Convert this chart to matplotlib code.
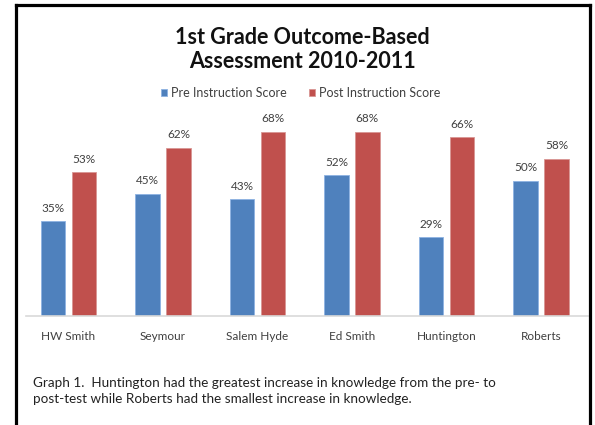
import numpy as np
import matplotlib.pyplot as plt
from matplotlib.lines import Line2D

plt.rcParams["font.family"] = ["Lato", "DejaVu Sans"]

schools = ["HW Smith", "Seymour", "Salem Hyde", "Ed Smith", "Huntington", "Roberts"]
pre_scores = [35, 45, 43, 52, 29, 50]
post_scores = [53, 62, 68, 68, 66, 58]
series_names = ["Pre Instruction Score", "Post Instruction Score"]

blue = "#4F81BD"
red = "#C0504D"
text_col = "#404040"

fig = plt.figure(figsize=(5.95, 4.25), dpi=100)
ax = fig.add_axes([26 / 595, 0.2565, 562 / 595, 0.51])

x = np.arange(len(schools))
w = 0.26
off = 0.164
b1 = ax.bar(x - off, pre_scores, w, color=blue, edgecolor="#8DB3E2", linewidth=0.6)
b2 = ax.bar(x + off, post_scores, w, color=red, edgecolor="#D99694", linewidth=0.6)

for bars, vals in [(b1, pre_scores), (b2, post_scores)]:
    for b, v in zip(bars, vals):
        ax.text(b.get_x() + b.get_width() / 2, v + 2.8, f"{v}%", ha="center", va="bottom",
                fontsize=8.5, color=text_col)

ax.set_xlim(-0.449, 5.498)
ax.set_ylim(0, 80)
ax.set_yticks([])
ax.set_xticks(x)
ax.set_xticklabels(schools, fontsize=8.5, color=text_col)
ax.tick_params(axis="x", length=0, pad=11)
for s in ["top", "right", "left"]:
    ax.spines[s].set_visible(False)
ax.spines["bottom"].set_color("#D9D9D9")
ax.spines["bottom"].set_linewidth(1.2)

fig.text(0.508, 0.912, "1st Grade Outcome-Based", ha="center", va="center",
         fontsize=15.5, fontweight="bold", color="#111111")
fig.text(0.508, 0.856, "Assessment 2010-2011", ha="center", va="center",
         fontsize=15.5, fontweight="bold", color="#111111")

leg = fig.legend([b1, b2], series_names, loc="center", bbox_to_anchor=(0.505, 0.781),
                 ncol=2, frameon=False, fontsize=9, handlelength=0.5, handleheight=0.5,
                 handletextpad=0.3, columnspacing=1.8)
for t in leg.get_texts():
    t.set_color(text_col)

fig.text(33 / 595, 0.08, "Graph 1.  Huntington had the greatest increase in knowledge from the pre- to\n"
         "post-test while Roberts had the smallest increase in knowledge.",
         ha="left", va="center", fontsize=9.75, color="#222222", linespacing=1.45)

# outer frame
lw = 2.3
fig.add_artist(Line2D([0.0277, 0.0277], [0, 0.9875], color="black", lw=lw, transform=fig.transFigure))
fig.add_artist(Line2D([0.9916, 0.9916], [0, 0.9875], color="black", lw=lw, transform=fig.transFigure))
fig.add_artist(Line2D([0.0277, 0.9916], [0.9875, 0.9875], color="black", lw=lw,
                      transform=fig.transFigure, solid_capstyle="projecting"))

fig.savefig("out.png")
